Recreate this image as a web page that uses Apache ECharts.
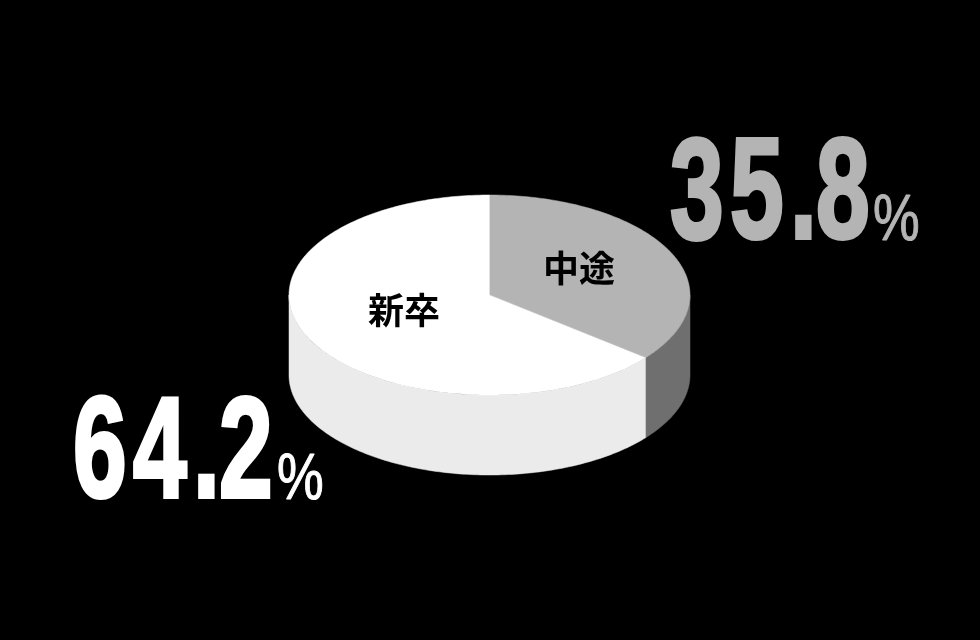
<!DOCTYPE html>
<html>
<head>
<meta charset="utf-8">
<style>html,body{margin:0;padding:0;background:#000}#c{width:980px;height:640px}</style>
<script src="https://cdn.jsdelivr.net/npm/echarts@6/dist/echarts.min.js"></script>
</head>
<body>
<div id="c"></div>
<script>
var categories = ['中途', '新卒'];
var shares = [35.8, 64.2];
var shareLabels = ['35.8', '64.2'];
var percentSign = '%';
var topColors = ['#b4b4b4', '#ffffff'];
var wallColors = ['#6f6f6f', '#ebebeb'];
var numberColors = ['#b4b4b4', '#ffffff'];

var CX = 489.5, CY = 295, RX = 200.5, RY = 100, DEPTH = 80;
var total = shares.reduce(function (a, b) { return a + b; }, 0);

function pt(deg, dy) {
  var r = deg * Math.PI / 180;
  return [CX + RX * Math.sin(r), CY - RY * Math.cos(r) + (dy || 0)];
}
function arc(a0, a1, dy) {
  var out = [], n = Math.max(2, Math.ceil(Math.abs(a1 - a0)));
  for (var i = 0; i <= n; i++) out.push(pt(a0 + (a1 - a0) * i / n, dy));
  return out;
}
function startAngle(idx) {
  var s = 0;
  for (var i = 0; i < idx; i++) s += shares[i];
  return s / total * 360;
}
function renderItem(params, api) {
  var idx = params.dataIndex;
  var a0 = startAngle(idx), a1 = a0 + api.value(0) / total * 360;
  var children = [];
  var w0 = Math.max(a0, 90), w1 = Math.min(a1, 270);
  if (w1 > w0) {
    children.push({
      type: 'polygon', z2: 1,
      shape: { points: arc(w0, w1, 0).concat(arc(w1, w0, DEPTH)) },
      style: { fill: wallColors[idx], stroke: wallColors[idx], lineWidth: 0.5 }
    });
  }
  children.push({
    type: 'polygon', z2: 2,
    shape: { points: [[CX, CY]].concat(arc(a0, a1, 0)) },
    style: { fill: topColors[idx], stroke: topColors[idx], lineWidth: 0.5 }
  });
  return { type: 'group', children: children };
}

function bigText(text, x, baseline, size, scaleX, strokeW, weight, color) {
  return {
    type: 'text', x: x, y: baseline, scaleX: scaleX, z: 10,
    style: {
      text: text, fill: color, stroke: color,
      lineWidth: strokeW,
      font: weight + ' ' + size + 'px "Liberation Sans"',
      textAlign: 'left', textVerticalAlign: 'bottom'
    }
  };
}
// each glyph is placed on its own so the condensed digits keep their gaps
function shareText(label, x, baseline, color) {
  var out = [], cur = x;
  label.split('').forEach(function (ch) {
    out.push(bigText(ch, cur, baseline, 142, 0.68, 4, 'bold', color));
    cur += ch === '.' ? 26 : 60;
  });
  return out;
}
function catText(text, x, y) {
  return {
    type: 'text', x: x, y: y, z: 10,
    style: {
      text: text, fill: '#000',
      font: 'bold 36px "Noto Sans CJK JP"',
      textAlign: 'center', textVerticalAlign: 'middle'
    }
  };
}

var chart = echarts.init(document.getElementById('c'), null, { renderer: 'canvas' });
chart.setOption({
  backgroundColor: '#000',
  animation: false,
  series: [{
    type: 'custom',
    coordinateSystem: 'none',
    renderItem: renderItem,
    silent: true,
    data: shares.map(function (v, i) { return { name: categories[i], value: [v] }; })
  }],
  graphic: shareText(shareLabels[0], 670, 270, numberColors[0])
    .concat(shareText(shareLabels[1], 73, 529, numberColors[1]))
    .concat([
      bigText(percentSign, 873, 254, 64, 0.82, 1, 'normal', numberColors[0]),
      bigText(percentSign, 277, 513, 64, 0.82, 1, 'normal', numberColors[1]),
      catText(categories[0], 579, 268),
      catText(categories[1], 404, 310)
    ])
});
</script>
</body>
</html>
